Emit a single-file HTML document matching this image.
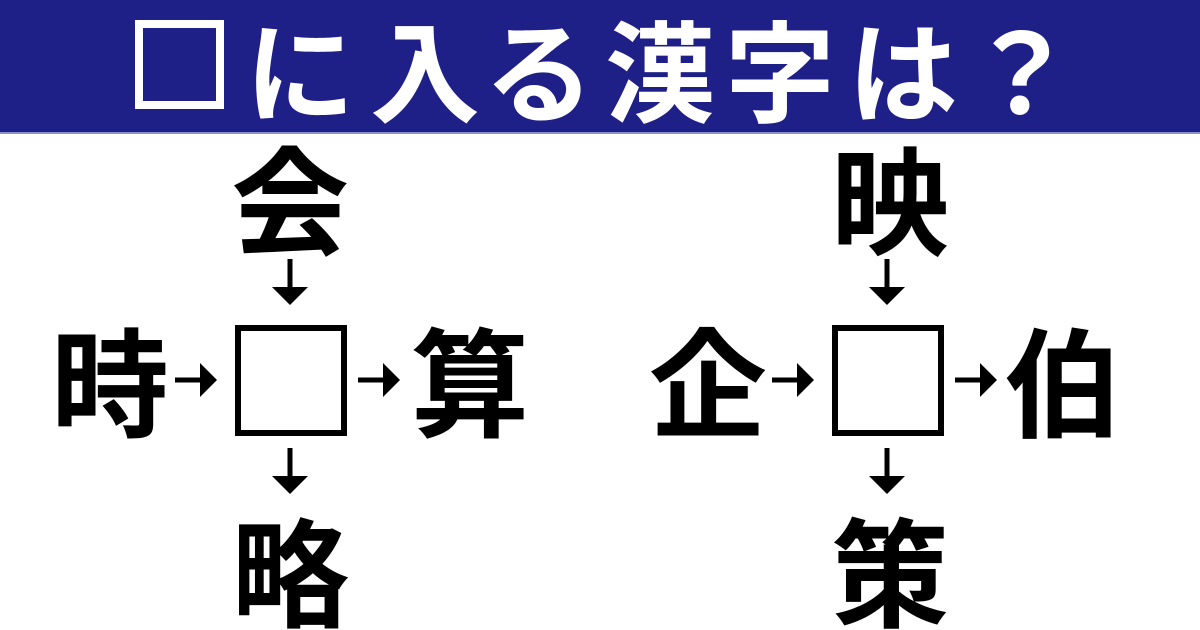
<!DOCTYPE html>
<html><head><meta charset="utf-8"><style>
html,body{margin:0;padding:0;background:#fff;width:1200px;height:630px;overflow:hidden;position:relative;font-family:"Liberation Sans","Noto Sans CJK JP",sans-serif}
.hdr{position:absolute;left:0;top:0;width:1200px;height:132px;background:#1f2087;border-bottom:2px solid #8a8fd0}
.ht{position:absolute;color:#fff;font-weight:bold;font-size:110px;line-height:1;top:11px;width:110px;text-align:center;font-family:"Noto Sans CJK JP",sans-serif}
.hb{position:absolute;left:135px;top:20px;width:73px;height:73px;border:8px solid #fff}
.k{position:absolute;font-weight:bold;font-size:118px;line-height:1;width:118px;text-align:center;font-family:"Noto Sans CJK JP",sans-serif;color:#000}
.box{position:absolute;width:100px;height:99px;border:6px solid #000}
</style></head><body>
<div class="hdr"></div>
<div class="hb"></div>
<div class="ht" style="left:245px">に</div>
<div class="ht" style="left:370px">入</div>
<div class="ht" style="left:484px">る</div>
<div class="ht" style="left:605px">漢</div>
<div class="ht" style="left:725px">字</div>
<div class="ht" style="left:848px">は</div>
<div class="ht" style="left:966px">？</div>

<div class="k" style="left:231px;top:136px">会</div>
<div class="k" style="left:51px;top:318px">時</div>
<div class="k" style="left:411px;top:318px">算</div>
<div class="k" style="left:231px;top:508px">略</div>
<div class="box" style="left:235px;top:325px"></div>

<div class="k" style="left:831px;top:136px">映</div>
<div class="k" style="left:649px;top:318px">企</div>
<div class="k" style="left:1004px;top:318px">伯</div>
<div class="k" style="left:831px;top:508px">策</div>
<div class="box" style="left:832px;top:325px"></div>

<svg width="1200" height="630" style="position:absolute;left:0;top:0">
<defs>
<g id="ad"><rect x="-2.5" y="0" width="5" height="29"/><polygon points="-18,28 18,28 0,46"/></g>
<g id="ar"><rect x="0" y="-2.5" width="26" height="5"/><polygon points="25,-17 25,17 42,0"/></g>
</defs>
<use href="#ad" x="290" y="259"/>
<use href="#ad" x="290" y="448"/>
<use href="#ar" x="175" y="380"/>
<use href="#ar" x="358" y="380"/>
<use href="#ad" x="887" y="259"/>
<use href="#ad" x="887" y="448"/>
<use href="#ar" x="772" y="380"/>
<use href="#ar" x="955" y="380"/>
</svg>
</body></html>
